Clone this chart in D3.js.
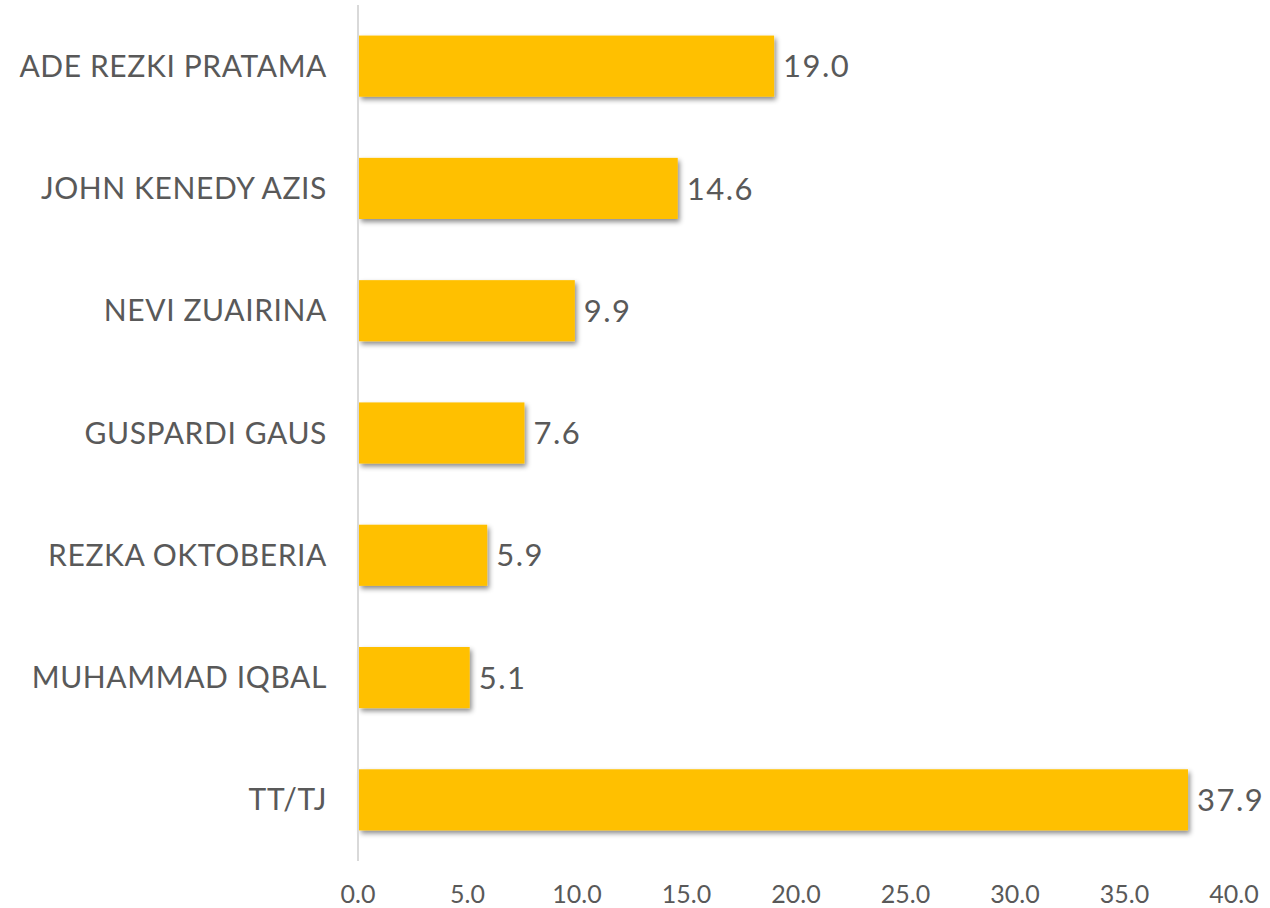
<!DOCTYPE html>
<html>
<head>
<meta charset="utf-8">
<script src="https://cdn.jsdelivr.net/npm/d3@7"></script>
<style>
  body { margin: 0; background: #fff; }
  svg text { font-family: "Lato", "DejaVu Sans", sans-serif; fill: #595959; }
</style>
</head>
<body>
<div id="chart"></div>
<script>
const names = [
  "ADE REZKI PRATAMA",
  "JOHN KENEDY AZIS",
  "NEVI ZUAIRINA",
  "GUSPARDI GAUS",
  "REZKA OKTOBERIA",
  "MUHAMMAD IQBAL",
  "TT/TJ"
];
const values = [19.0, 14.6, 9.9, 7.6, 5.9, 5.1, 37.9];
const ticks = [0, 5, 10, 15, 20, 25, 30, 35, 40];

const width = 1270;
const height = 908;

const svg = d3
  .select("#chart")
  .append("svg")
  .attr("width", width)
  .attr("height", height);

// soft shadow under the bars
const defs = svg.append("defs");
const shadow = defs
  .append("filter")
  .attr("id", "shadow")
  .attr("x", "-5%")
  .attr("y", "-20%")
  .attr("width", "115%")
  .attr("height", "160%");
shadow
  .append("feDropShadow")
  .attr("dx", 2)
  .attr("dy", 3)
  .attr("stdDeviation", 2.5)
  .attr("flood-color", "#000")
  .attr("flood-opacity", 0.45);

const x = d3.scaleLinear().domain([0, 40]).range([358, 1234]);
const y = d3.scaleBand().domain(names).range([5, 861]).paddingInner(0.5).paddingOuter(0.25);

// bars
svg
  .selectAll(".bar")
  .data(values)
  .enter()
  .append("rect")
  .attr("class", "bar")
  .attr("x", x(0) + 1)
  .attr("y", (d, i) => y(names[i]))
  .attr("width", (d) => x(d) - x(0) - 1)
  .attr("height", y.bandwidth())
  .attr("fill", "#FFC000")
  .attr("filter", "url(#shadow)");

// vertical axis line
svg
  .append("line")
  .attr("x1", x(0))
  .attr("x2", x(0))
  .attr("y1", 5)
  .attr("y2", 861)
  .attr("stroke", "#d9d9d9")
  .attr("stroke-width", 2);

// category labels
svg
  .selectAll(".cat")
  .data(names)
  .enter()
  .append("text")
  .attr("class", "cat")
  .attr("x", x(0) - 31)
  .attr("y", (d) => y(d) + y.bandwidth() / 2)
  .attr("dy", "0.35em")
  .attr("text-anchor", "end")
  .style("font-size", "30px")
  .style("letter-spacing", "0.6px")
  .text((d) => d);

// value labels
svg
  .selectAll(".val")
  .data(values)
  .enter()
  .append("text")
  .attr("class", "val")
  .attr("x", (d) => x(d) + 9)
  .attr("y", (d, i) => y(names[i]) + y.bandwidth() / 2)
  .attr("dy", "0.36em")
  .style("font-size", "31px")
  .style("letter-spacing", "1.5px")
  .text((d) => d.toFixed(1));

// x tick labels
svg
  .selectAll(".tick")
  .data(ticks)
  .enter()
  .append("text")
  .attr("class", "tick")
  .attr("x", (d) => x(d))
  .attr("y", 894)
  .attr("dy", "0.35em")
  .attr("text-anchor", "middle")
  .style("font-size", "25px")
  .text((d) => d.toFixed(1));
</script>
</body>
</html>
